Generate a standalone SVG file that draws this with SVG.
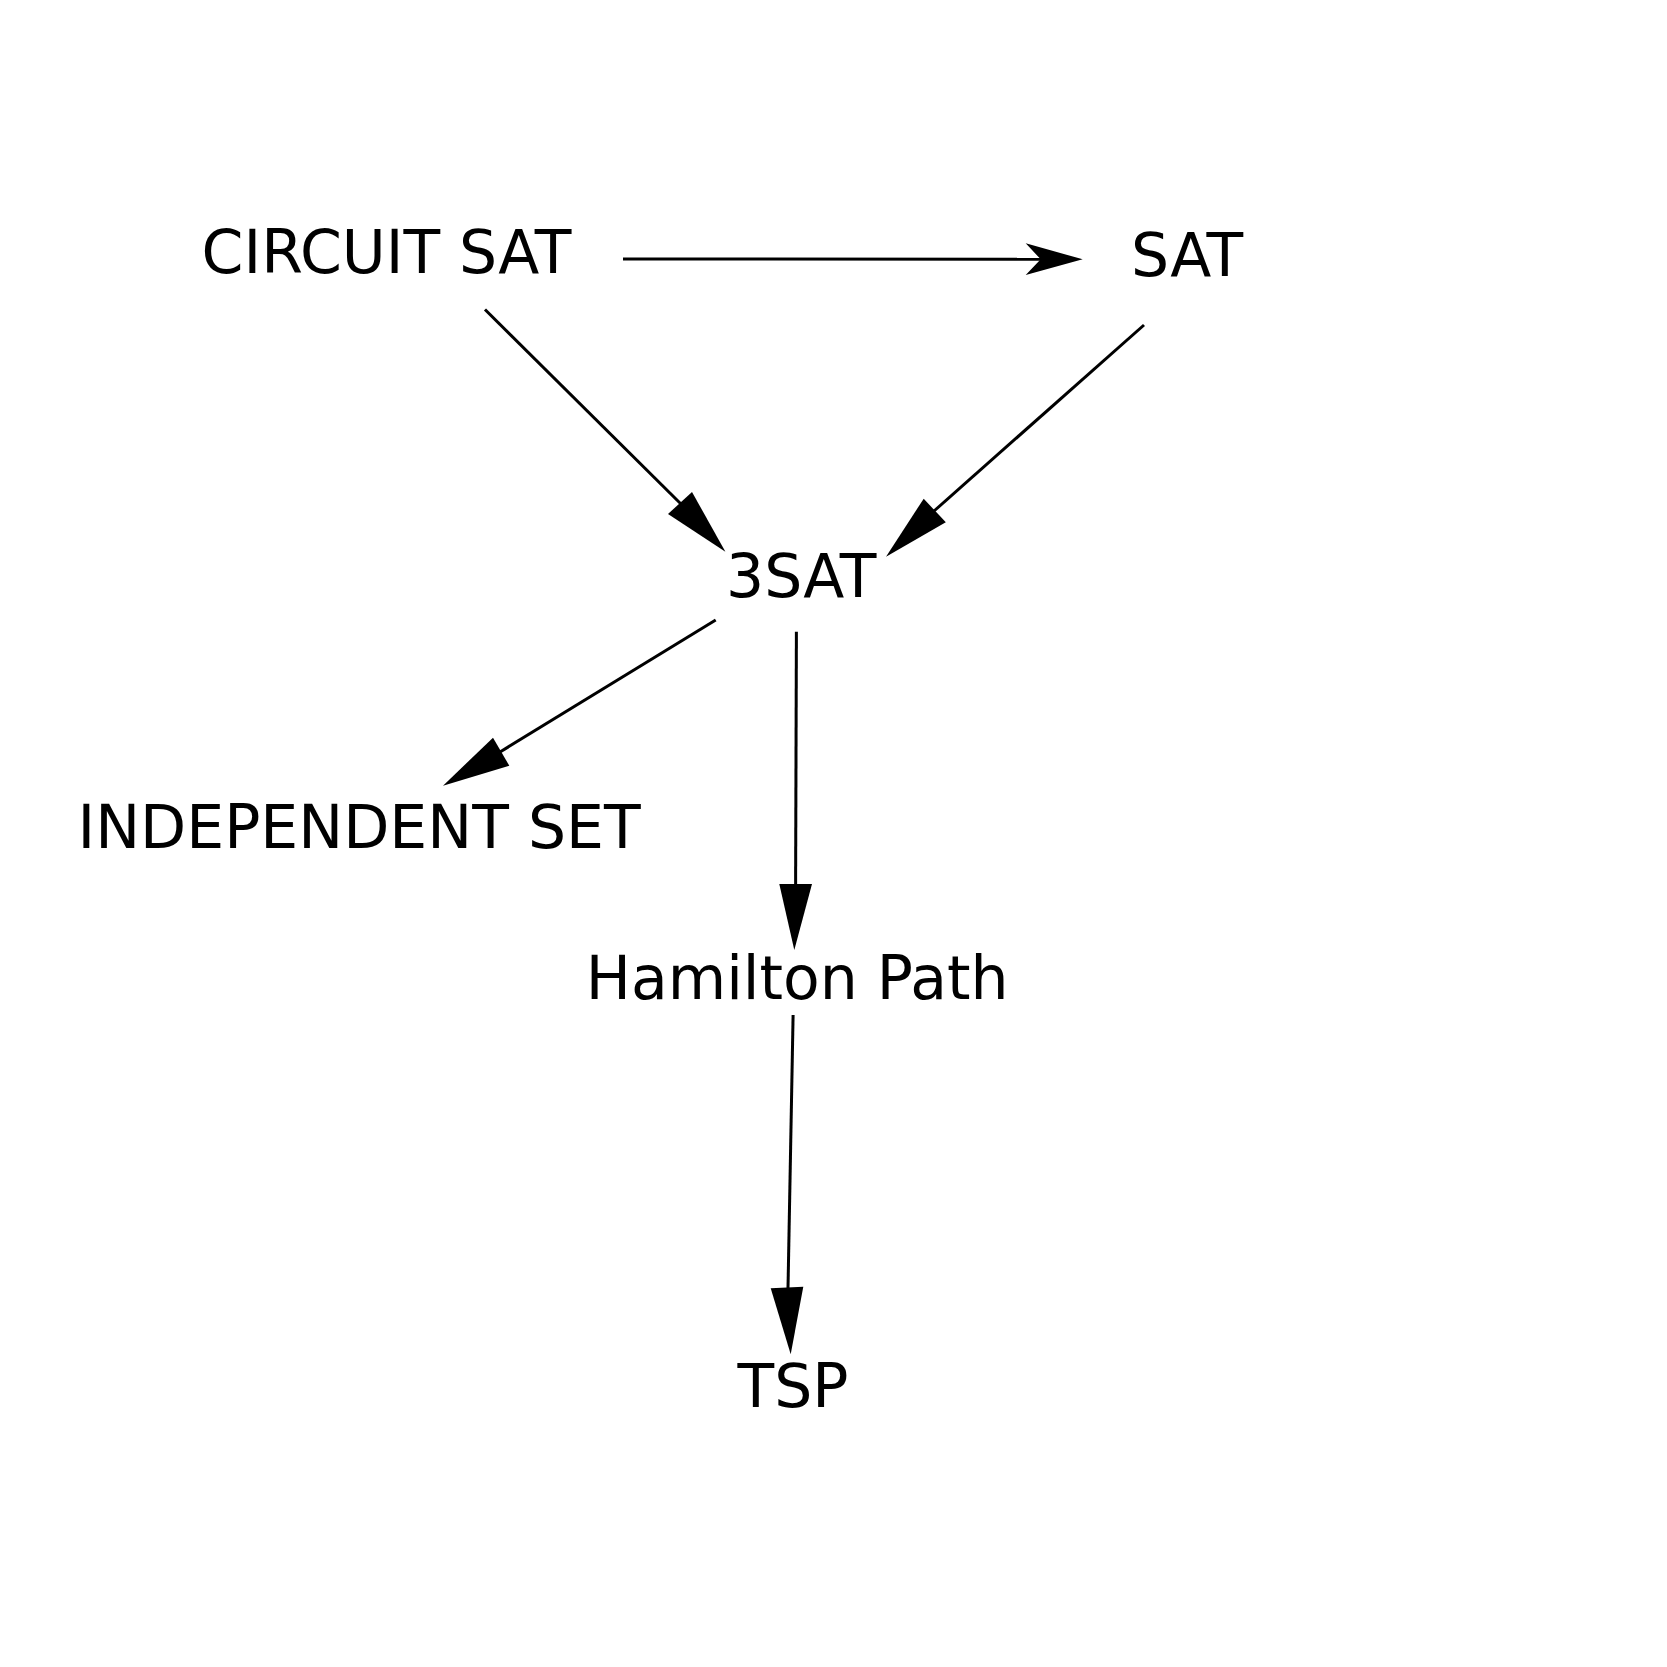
<svg xmlns="http://www.w3.org/2000/svg" width="1667" height="1667" viewBox="0 0 1667 1667">
<style>
  .lbl { font-family: "DejaVu Sans", "Liberation Sans", sans-serif; font-size: 60px; fill: #000; }
  .edge line { stroke: #000; stroke-width: 3; fill: none; }
  .edge polygon { fill: #000; stroke: none; }
</style>
<rect x="0" y="0" width="1667" height="1667" fill="#fff"/>
<g id="connectors" class="edge">
  <g id="e-circuit-sat">
    <line x1="623" y1="259" x2="1041" y2="259.2"/>
    <polygon points="1025.7,243.3 1082.7,259.3 1025.7,275 1040.7,259.3"/>
  </g>
  <g id="e-circuit-3sat">
    <line x1="485" y1="309.5" x2="681" y2="504"/>
    <polygon points="668,514 692,492 725.4,551.7"/>
  </g>
  <g id="e-sat-3sat">
    <line x1="1144" y1="325" x2="934" y2="511"/>
    <polygon points="923.7,498.7 945.8,522.3 886,556.7"/>
  </g>
  <g id="e-3sat-indep">
    <line x1="715.7" y1="620" x2="500" y2="752"/>
    <polygon points="493,737.7 509.3,765.7 443,785.7"/>
  </g>
  <g id="e-3sat-ham">
    <line x1="796.4" y1="631.7" x2="795.6" y2="885"/>
    <polygon points="779.3,884 812,884 794.3,950"/>
  </g>
  <g id="e-ham-tsp">
    <line x1="793.1" y1="1015" x2="788" y2="1288"/>
    <polygon points="770.7,1288.3 803.3,1286.7 790.7,1354.3"/>
  </g>
</g>
<g id="n-circuit-sat"><text class="lbl" x="201.6" y="272.7">CIRCUIT SAT</text></g>
<g id="n-sat"><text class="lbl" x="1131" y="276">SAT</text></g>
<g id="n-3sat"><text class="lbl" x="726" y="596.7">3SAT</text></g>
<g id="n-indep"><text class="lbl" x="77.5" y="848.3">INDEPENDENT SET</text></g>
<g id="n-ham"><text class="lbl" x="585.8" y="999.3">Hamilton Path</text></g>
<g id="n-tsp"><text class="lbl" x="737.5" y="1407.3">TSP</text></g>
</svg>
